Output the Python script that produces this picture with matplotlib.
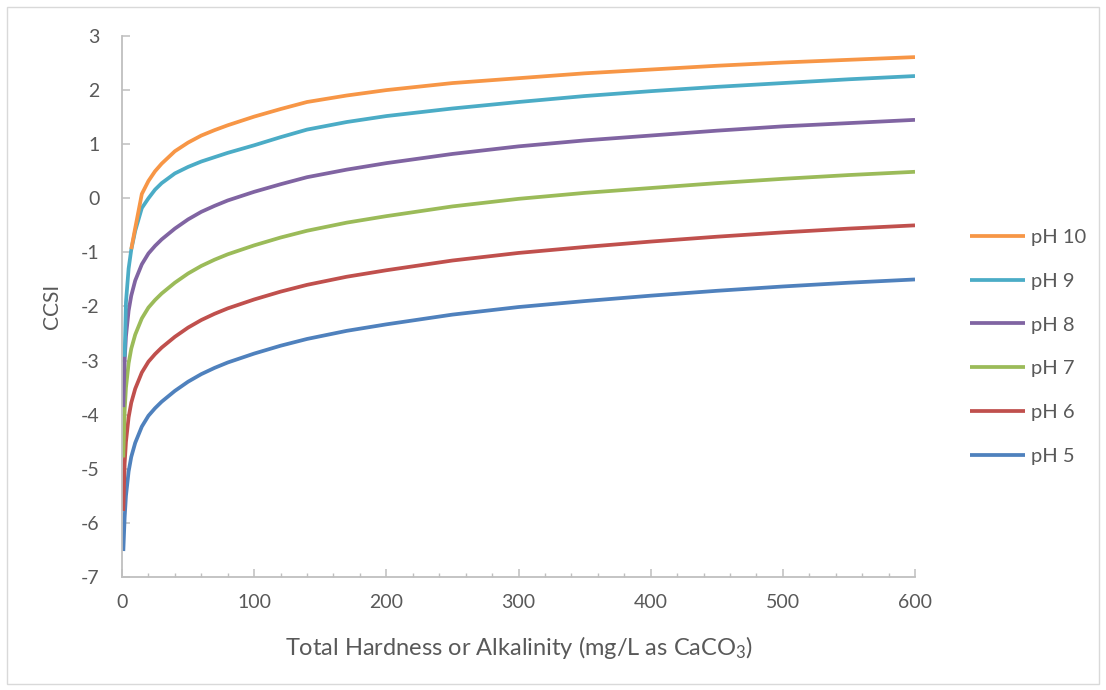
import matplotlib
matplotlib.use("Agg")
import matplotlib.pyplot as plt
import numpy as np
from matplotlib.patches import Rectangle
from matplotlib.ticker import MultipleLocator

plt.rcParams['font.family'] = ['Lato', 'DejaVu Sans']
plt.rcParams['mathtext.fontset'] = 'custom'
plt.rcParams['mathtext.rm'] = 'Lato'
plt.rcParams['mathtext.it'] = 'Lato'
plt.rcParams['axes.unicode_minus'] = False

# Total hardness / alkalinity (mg/L as CaCO3)
hardness = [1, 2, 3, 5, 7, 10, 15, 20, 25, 30, 40, 50, 60, 70, 80, 100, 120, 140,
            170, 200, 250, 300, 350, 400, 450, 500, 550, 600]

ph5 = [-6.52, -5.90, -5.50, -5.05, -4.78, -4.52, -4.22, -4.02, -3.88, -3.76, -3.56, -3.39, -3.25,
       -3.135, -3.035, -2.87, -2.725, -2.60, -2.45, -2.33, -2.15, -2.01, -1.90, -1.80, -1.71,
       -1.63, -1.56, -1.50]
ph6 = [-5.78, -4.90, -4.50, -4.05, -3.78, -3.52, -3.22, -3.02, -2.88, -2.76, -2.56, -2.39, -2.25,
       -2.135, -2.035, -1.87, -1.725, -1.60, -1.45, -1.33, -1.15, -1.01, -0.90, -0.80, -0.71,
       -0.63, -0.56, -0.50]
ph7 = [-4.79, -3.92, -3.50, -3.05, -2.78, -2.52, -2.22, -2.02, -1.88, -1.76, -1.56, -1.39, -1.25,
       -1.135, -1.035, -0.87, -0.725, -0.60, -0.45, -0.33, -0.15, -0.01, 0.10, 0.19, 0.28,
       0.36, 0.43, 0.49]
ph8 = [-3.86, -3.00, -2.55, -2.08, -1.80, -1.52, -1.22, -1.02, -0.88, -0.76, -0.56, -0.39, -0.25,
       -0.14, -0.04, 0.12, 0.26, 0.39, 0.53, 0.65, 0.82, 0.96, 1.07, 1.16, 1.25, 1.33, 1.39, 1.45]
ph9 = [np.nan, -2.93, -1.92, -1.30, -0.95, -0.60, -0.18, 0.00, 0.16, 0.28, 0.46, 0.58, 0.68,
       0.76, 0.84, 0.98, 1.13, 1.27, 1.41, 1.52, 1.66, 1.78, 1.89, 1.98, 2.06, 2.13, 2.20, 2.26]
ph10 = [np.nan, np.nan, np.nan, np.nan, -0.94, -0.55, 0.08, 0.32, 0.50, 0.64, 0.87, 1.03, 1.16,
        1.26, 1.35, 1.51, 1.65, 1.78, 1.90, 2.00, 2.13, 2.22, 2.31, 2.38, 2.45, 2.51, 2.56, 2.61]

series = [("pH 5", ph5, "#4F81BD"), ("pH 6", ph6, "#C0504D"), ("pH 7", ph7, "#9BBB59"),
          ("pH 8", ph8, "#8064A2"), ("pH 9", ph9, "#4BACC6"), ("pH 10", ph10, "#F79646")]

fig = plt.figure(figsize=(11.06, 6.90), dpi=100)
fig.patches.append(Rectangle((7/1106, 6/690), 1092/1106, 677/690, transform=fig.transFigure,
                             fill=False, edgecolor='#D9D9D9', linewidth=1.0))
ax = fig.add_axes([122/1106, 113/690, 793/1106, 541/690])

handles = []
for label, vals, col in series:
    ln, = ax.plot(hardness, vals, color=col, linewidth=2.7, label=label,
                  solid_capstyle='butt', solid_joinstyle='round')
    handles.append(ln)

ax.set_xlim(0, 600)
ax.set_ylim(-7, 3)
ax.xaxis.set_major_locator(MultipleLocator(100))
ax.xaxis.set_minor_locator(MultipleLocator(20))
ax.yaxis.set_major_locator(MultipleLocator(1))

for s in ['top', 'right']:
    ax.spines[s].set_visible(False)
for s in ['left', 'bottom']:
    ax.spines[s].set_color('#BFBFBF')
    ax.spines[s].set_linewidth(1.3)

ax.tick_params(axis='both', which='major', direction='in', length=5.5, width=1.1,
               color='#BFBFBF', labelcolor='#595959', labelsize=14, pad=12)
ax.tick_params(axis='x', which='minor', direction='in', length=3, width=1.0, color='#BFBFBF')
ax.tick_params(axis='y', which='major', pad=16)

ax.set_xlabel(r'Total Hardness or Alkalinity (mg/L as CaCO$_3$)', fontsize=17,
              color='#595959', labelpad=17)
ax.set_ylabel('CCSI', fontsize=15, color='#595959', labelpad=14)

leg = fig.legend(handles[::-1], [h.get_label() for h in handles[::-1]],
                 loc='upper left', bbox_to_anchor=(962/1106, 1 - 221/690),
                 frameon=False, fontsize=14.5, labelspacing=1.32, handlelength=2.75,
                 handletextpad=0.3, borderaxespad=0)
for t in leg.get_texts():
    t.set_color('#595959')

fig.savefig('out.png', dpi=100)
